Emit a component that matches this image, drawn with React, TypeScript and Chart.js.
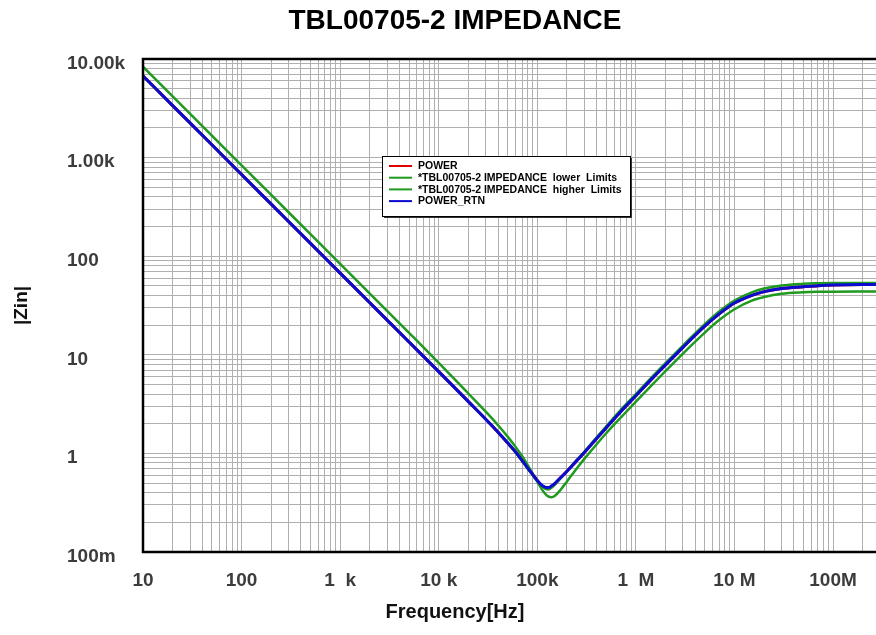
import React, { useEffect, useRef } from 'react';
import { Chart, registerables } from 'chart.js';

Chart.register(...registerables);

// ---- data ----
const FREQ = [
  10, 20, 50, 100, 200, 500, 1e3, 2e3, 5e3, 1e4, 2e4, 3e4, 4e4, 5e4, 6e4, 7e4, 8e4, 9e4,
  1e5, 1.1e5, 1.2e5, 1.3e5, 1.4e5, 1.5e5, 1.7e5, 2e5, 2.5e5, 3e5, 4e5, 5e5, 7e5,
  1e6, 1.5e6, 2e6, 3e6, 5e6, 7e6, 1e7, 1.5e7, 2e7, 3e7, 5e7, 7e7, 1e8, 2e8, 4e8,
];

const POWER = [
  6730, 3370, 1350, 673, 337, 135, 67.3, 33.7, 13.5, 6.75, 3.35, 2.22, 1.64, 1.28, 1.04, 0.85, 0.71, 0.61,
  0.53, 0.475, 0.45, 0.44, 0.46, 0.49, 0.56, 0.66, 0.84, 1.02, 1.42, 1.82, 2.65,
  3.85, 5.9, 7.9, 11.9, 19.5, 26, 33.5, 40, 43.7, 47, 49, 50.2, 51, 51.5, 51.5,
];

const LOWER_LIMIT = [
  8360, 4180, 1670, 836, 418, 167, 83.6, 41.8, 16.7, 8.3, 4.05, 2.65, 1.93, 1.48, 1.17, 0.94, 0.76, 0.62,
  0.52, 0.44, 0.39, 0.365, 0.36, 0.37, 0.42, 0.52, 0.7, 0.88, 1.24, 1.6, 2.3,
  3.35, 5.1, 6.85, 10.3, 16.8, 22.5, 29, 35.5, 38.5, 41.5, 43, 43.5, 43.7, 43.8, 43.8,
];

const HIGHER_LIMIT = [
  6730, 3370, 1350, 673, 337, 135, 67.3, 33.7, 13.5, 6.75, 3.35, 2.22, 1.64, 1.28, 1.03, 0.84, 0.7, 0.6,
  0.52, 0.47, 0.44, 0.43, 0.45, 0.48, 0.55, 0.66, 0.85, 1.04, 1.46, 1.88, 2.75,
  4.0, 6.15, 8.25, 12.4, 20.5, 27.5, 35.5, 43, 47, 50.5, 52.5, 53.1, 53.4, 53.6, 53.6,
];

const POWER_RTN = [
  6730, 3370, 1350, 673, 337, 135, 67.3, 33.7, 13.5, 6.75, 3.35, 2.22, 1.64, 1.28, 1.04, 0.85, 0.71, 0.61,
  0.53, 0.48, 0.455, 0.45, 0.47, 0.495, 0.56, 0.66, 0.84, 1.02, 1.42, 1.82, 2.65,
  3.85, 5.9, 7.9, 11.9, 19.5, 26, 33.5, 40, 43.7, 47, 49, 50.2, 51, 51.5, 51.5,
];

const SERIES_LABELS = [
  'POWER',
  '*TBL00705-2 IMPEDANCE  lower  Limits',
  '*TBL00705-2 IMPEDANCE  higher  Limits',
  'POWER_RTN',
];
const SERIES_COLORS = ['#e00000', '#1e9a1e', '#1e9a1e', '#0a0ad0'];

const X_DECADES = [10, 100, 1e3, 1e4, 1e5, 1e6, 1e7, 1e8];
const X_LABELS = ['10', '100', '1  k', '10 k', '100k', '1  M', '10 M', '100M'];
const Y_DECADES = [0.1, 1, 10, 100, 1000, 10000];
const Y_LABELS = ['100m', '1', '10', '100', '1.00k', '10.00k'];

const X_MIN = 10;
const X_MAX = 4.28e8;
const Y_MIN = 0.1;
const Y_MAX = 10000;

const FONT = '"Liberation Sans", Arial, Helvetica, sans-serif';
const GRID = '#b0b0b0';
const TICK_COLOR = '#3c3c3c';

function minorTicks(min: number, max: number) {
  const out: { value: number }[] = [];
  for (let e = Math.floor(Math.log10(min)); e <= Math.ceil(Math.log10(max)); e++) {
    for (let m = 1; m <= 9; m++) {
      const v = m * Math.pow(10, e);
      if (v >= min * 0.999 && v <= max * 1.001) out.push({ value: v });
    }
  }
  return out;
}

function labelFor(v: number, decades: number[], labels: string[]) {
  for (let i = 0; i < decades.length; i++) {
    if (Math.abs(v - decades[i]) / decades[i] < 1e-6) return labels[i];
  }
  return '';
}

const framePlugin = {
  id: 'frame',
  afterDatasetsDraw(chart: any) {
    const { ctx, chartArea } = chart;
    ctx.save();
    ctx.strokeStyle = '#000';
    ctx.lineWidth = 2.5;
    ctx.strokeRect(chartArea.left, chartArea.top, chartArea.right - chartArea.left, chartArea.bottom - chartArea.top);
    ctx.restore();
  },
};

const legendBoxPlugin = {
  id: 'legendBox',
  afterDraw(chart: any) {
    const { ctx } = chart;
    const x0 = 382, y0 = 156, w = 248, h = 60;
    ctx.save();
    ctx.fillStyle = '#333';
    ctx.fillRect(x0 + 2, y0 + 2, w, h);
    ctx.fillStyle = '#fff';
    ctx.fillRect(x0, y0, w, h);
    ctx.strokeStyle = '#000';
    ctx.lineWidth = 1;
    ctx.strokeRect(x0 + 0.5, y0 + 0.5, w, h);
    ctx.font = 'bold 10.5px ' + FONT;
    ctx.textBaseline = 'middle';
    ctx.textAlign = 'left';
    chart.data.datasets.forEach((ds: any, i: number) => {
      const y = y0 + 10 + i * 11.7;
      ctx.strokeStyle = ds.borderColor;
      ctx.lineWidth = 2;
      ctx.beginPath();
      ctx.moveTo(x0 + 7, y);
      ctx.lineTo(x0 + 30, y);
      ctx.stroke();
      ctx.fillStyle = '#000';
      ctx.fillText(ds.label, x0 + 36, y + 0.5);
    });
    ctx.restore();
  },
};

export default function App() {
  const ref = useRef<HTMLCanvasElement | null>(null);

  useEffect(() => {
    if (!ref.current) return;
    const seriesValues = [POWER, LOWER_LIMIT, HIGHER_LIMIT, POWER_RTN];
    const widths = [3, 2.5, 2.5, 3];
    const orders = [3, 2, 1, 0];
    const chart = new Chart(ref.current, {
      type: 'line',
      data: {
        datasets: seriesValues.map((vals, i) => ({
          label: SERIES_LABELS[i],
          data: FREQ.map((f, j) => ({ x: f, y: vals[j] })),
          borderColor: SERIES_COLORS[i],
          backgroundColor: SERIES_COLORS[i],
          borderWidth: widths[i],
          order: orders[i],
          pointRadius: 0,
          fill: false,
          cubicInterpolationMode: 'monotone' as const,
        })),
      },
      options: {
        responsive: false,
        animation: false,
        layout: { padding: 0 },
        plugins: {
          legend: { display: false },
          tooltip: { enabled: false },
          title: {
            display: true,
            text: 'TBL00705-2 IMPEDANCE',
            color: '#000',
            font: { family: FONT, size: 28, weight: 'bold' },
            padding: { top: 4, bottom: 21.4 },
          },
          subtitle: {
            display: true,
            position: 'bottom',
            text: 'Frequency[Hz]',
            color: '#111',
            font: { family: FONT, size: 20, weight: 'bold' },
            padding: { top: 8, bottom: 11 },
          },
        },
        scales: {
          x: {
            type: 'logarithmic',
            min: X_MIN,
            max: X_MAX,
            afterBuildTicks: (scale: any) => {
              scale.ticks = minorTicks(X_MIN, X_MAX);
            },
            afterFit: (scale: any) => {
              scale.height = 40;
            },
            grid: { color: GRID, lineWidth: 1, drawTicks: false },
            border: { display: false },
            ticks: {
              autoSkip: false,
              maxRotation: 0,
              minRotation: 0,
              padding: 17.6,
              color: TICK_COLOR,
              font: { family: FONT, size: 19, weight: 'bold' },
              callback: (v: any) => labelFor(Number(v), X_DECADES, X_LABELS),
            },
          },
          y: {
            type: 'logarithmic',
            min: Y_MIN,
            max: Y_MAX,
            afterBuildTicks: (scale: any) => {
              scale.ticks = minorTicks(Y_MIN, Y_MAX);
            },
            afterFit: (scale: any) => {
              scale.width = 143;
            },
            grid: { color: GRID, lineWidth: 1, drawTicks: false },
            border: { display: false },
            title: {
              display: true,
              text: '|Zin|',
              color: '#111',
              font: { family: FONT, size: 19, weight: 'bold' },
              padding: { top: 10.6, bottom: 0 },
            },
            ticks: {
              autoSkip: false,
              mirror: true,
              padding: -76,
              labelOffset: 4.5,
              color: TICK_COLOR,
              font: { family: FONT, size: 19, weight: 'bold' },
              callback: (v: any) => labelFor(Number(v), Y_DECADES, Y_LABELS),
            },
          },
        },
      } as any,
      plugins: [framePlugin, legendBoxPlugin],
    });
    return () => chart.destroy();
  }, []);

  return (
    <div style={{ position: 'fixed', left: 0, top: 0, width: 876, height: 635, overflow: 'hidden', background: '#fff' }}>
      <canvas ref={ref} width={910} height={635} style={{ display: 'block', width: 910, height: 635 }} />
    </div>
  );
}
